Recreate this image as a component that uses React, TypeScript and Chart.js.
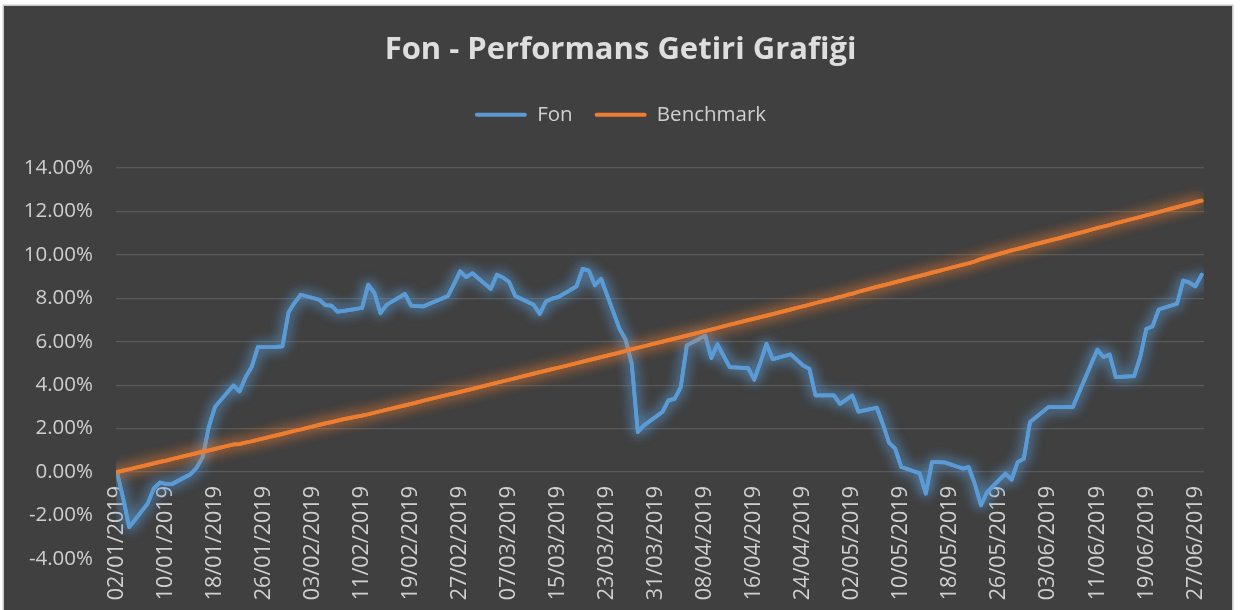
import React, { useEffect, useRef } from 'react';
import { Chart, registerables } from 'chart.js';

Chart.register(...registerables);

const TITLE = 'Fon - Performans Getiri Grafiği';
const SERIES_LABELS = ['Fon', 'Benchmark'];
const SERIES_COLORS = ['#5B9BD5', '#ED7D31'];
const GLOW_COLORS = ['rgba(91,155,213,0.9)', 'rgba(237,125,49,0.9)'];

const DATES = [
  '02/01/2019', '03/01/2019', '04/01/2019', '07/01/2019', '08/01/2019', '09/01/2019', '10/01/2019', '11/01/2019',
  '14/01/2019', '15/01/2019', '16/01/2019', '17/01/2019', '18/01/2019', '21/01/2019', '22/01/2019', '23/01/2019',
  '24/01/2019', '25/01/2019', '28/01/2019', '29/01/2019', '30/01/2019', '31/01/2019',
  '01/02/2019', '04/02/2019', '05/02/2019', '06/02/2019', '07/02/2019', '08/02/2019', '11/02/2019', '12/02/2019',
  '13/02/2019', '14/02/2019', '15/02/2019', '18/02/2019', '19/02/2019', '20/02/2019', '21/02/2019', '22/02/2019',
  '25/02/2019', '26/02/2019', '27/02/2019', '28/02/2019',
  '01/03/2019', '04/03/2019', '05/03/2019', '06/03/2019', '07/03/2019', '08/03/2019', '11/03/2019', '12/03/2019',
  '13/03/2019', '14/03/2019', '15/03/2019', '18/03/2019', '19/03/2019', '20/03/2019', '21/03/2019', '22/03/2019',
  '25/03/2019', '26/03/2019', '27/03/2019', '28/03/2019', '29/03/2019',
  '01/04/2019', '02/04/2019', '03/04/2019', '04/04/2019', '05/04/2019', '08/04/2019', '09/04/2019', '10/04/2019',
  '11/04/2019', '12/04/2019', '15/04/2019', '16/04/2019', '17/04/2019', '18/04/2019', '19/04/2019', '22/04/2019',
  '23/04/2019', '24/04/2019', '25/04/2019', '26/04/2019', '29/04/2019', '30/04/2019',
  '01/05/2019', '02/05/2019', '03/05/2019', '06/05/2019', '07/05/2019', '08/05/2019', '09/05/2019', '10/05/2019',
  '13/05/2019', '14/05/2019', '15/05/2019', '16/05/2019', '17/05/2019', '20/05/2019', '21/05/2019', '22/05/2019',
  '23/05/2019', '24/05/2019', '27/05/2019', '28/05/2019', '29/05/2019', '30/05/2019', '31/05/2019',
  '03/06/2019', '04/06/2019', '05/06/2019', '06/06/2019', '07/06/2019', '10/06/2019', '11/06/2019', '12/06/2019',
  '13/06/2019', '14/06/2019', '17/06/2019', '18/06/2019', '19/06/2019', '20/06/2019', '21/06/2019', '24/06/2019',
  '25/06/2019', '26/06/2019', '27/06/2019', '28/06/2019',
];

const FON = [
  0.0, -1.2, -2.53, -1.45, -0.76, -0.48, -0.55, -0.55,
  -0.1, 0.2, 0.7, 2.1, 3.0, 3.99, 3.71, 4.37,
  4.85, 5.75, 5.76, 5.78, 7.36, 7.8,
  8.16, 7.93, 7.68, 7.66, 7.38, 7.42, 7.55, 8.62,
  8.25, 7.31, 7.7, 8.2, 7.66, 7.64, 7.62, 7.75,
  8.1, 8.65, 9.24, 8.97,
  9.15, 8.43, 9.08, 8.95, 8.75, 8.1, 7.7, 7.28,
  7.85, 7.98, 8.05, 8.55, 9.35, 9.27, 8.6, 8.9,
  6.6, 6.1, 5.0, 1.84, 2.15,
  2.76, 3.3, 3.37, 3.9, 5.83, 6.28, 5.25, 5.88,
  5.35, 4.83, 4.78, 4.25, 5.05, 5.9, 5.2, 5.42,
  5.15, 4.9, 4.75, 3.53, 3.53, 3.14,
  3.33, 3.53, 2.78, 2.96, 2.2, 1.35, 1.08, 0.23,
  -0.05, -0.99, 0.46, 0.46, 0.45, 0.16, 0.23, -0.55,
  -1.53, -0.92, -0.07, -0.35, 0.46, 0.62, 2.3,
  2.99, 2.99, 2.99, 2.99, 2.99, 4.98, 5.63, 5.29,
  5.41, 4.37, 4.41, 5.3, 6.6, 6.7, 7.48, 7.75,
  8.81, 8.72, 8.55, 9.08,
];

const BENCHMARK = [
  0.0, 0.07, 0.13, 0.33, 0.4, 0.47, 0.53, 0.6,
  0.8, 0.87, 0.94, 1.0, 1.07, 1.27, 1.29, 1.36,
  1.42, 1.49, 1.69, 1.76, 1.83, 1.9,
  1.96, 2.17, 2.24, 2.3, 2.37, 2.44, 2.6, 2.66,
  2.73, 2.8, 2.87, 3.07, 3.14, 3.21, 3.28, 3.35,
  3.56, 3.62, 3.69, 3.76,
  3.83, 4.04, 4.11, 4.18, 4.25, 4.32, 4.53, 4.6,
  4.67, 4.74, 4.8, 5.01, 5.08, 5.15, 5.22, 5.29,
  5.5, 5.57, 5.65, 5.72, 5.79,
  6.0, 6.07, 6.14, 6.21, 6.28, 6.49, 6.56, 6.63,
  6.71, 6.78, 6.99, 7.06, 7.13, 7.2, 7.27, 7.49,
  7.56, 7.63, 7.7, 7.78, 7.99, 8.06,
  8.14, 8.21, 8.3, 8.52, 8.59, 8.66, 8.74, 8.81,
  9.03, 9.1, 9.18, 9.25, 9.32, 9.54, 9.61, 9.69,
  9.8, 9.88, 10.12, 10.2, 10.27, 10.34, 10.42,
  10.64, 10.71, 10.78, 10.86, 10.93, 11.15, 11.23, 11.3,
  11.37, 11.45, 11.67, 11.74, 11.82, 11.89, 11.97, 12.19,
  12.27, 12.34, 12.42, 12.49,
];

const X_TICK_STEP_DAYS = 8;
const Y_MIN = -4;
const Y_MAX = 14;
const Y_STEP = 2;

const DAY_MS = 86400000;
const parseDate = (s: string) => {
  const [d, m, y] = s.split('/').map(Number);
  return Date.UTC(y, m - 1, d);
};
const START = parseDate(DATES[0]);
const toDay = (s: string) => Math.round((parseDate(s) - START) / DAY_MS);
const pad2 = (n: number) => String(n).padStart(2, '0');
const fmtDay = (n: number) => {
  const dt = new Date(START + Math.round(n) * DAY_MS);
  return `${pad2(dt.getUTCDate())}/${pad2(dt.getUTCMonth() + 1)}/${dt.getUTCFullYear()}`;
};

const FONT = "'Open Sans', 'Noto Sans', sans-serif";
const W = 1241;
const H = 610;

const backgroundPlugin = {
  id: 'bgFrame',
  beforeDraw(chart: any) {
    const c = chart.ctx;
    c.save();
    c.fillStyle = '#ffffff';
    c.fillRect(0, 0, chart.width, chart.height);
    c.fillStyle = '#404040';
    c.fillRect(4, 6, 1228, chart.height - 6);
    c.strokeStyle = '#c8c8c8';
    c.lineWidth = 1.5;
    c.strokeRect(3.25, 5.25, 1229.5, chart.height + 10);
    c.restore();
  },
};

// Soft glow: the library's own line element is drawn with a canvas shadow,
// plus one extra shadowed pass to strengthen the halo.
const glowPlugin = {
  id: 'glow',
  beforeDatasetDraw(chart: any, args: any) {
    const c = chart.ctx;
    const a = chart.chartArea;
    c.save();
    c.shadowColor = GLOW_COLORS[args.index];
    c.shadowBlur = 13;
    c.save();
    c.beginPath();
    c.rect(a.left, a.top, a.right - a.left, a.bottom - a.top);
    c.clip();
    args.meta.controller.draw();
    c.restore();
  },
  afterDatasetDraw(chart: any) {
    chart.ctx.restore();
  },
};

export default function App() {
  const ref = useRef<HTMLCanvasElement>(null);

  useEffect(() => {
    const canvas = ref.current;
    if (!canvas) return;
    const xs = DATES.map(toDay);
    const series = [FON, BENCHMARK];
    const chart = new Chart(canvas, {
      type: 'line',
      data: {
        datasets: series.map((vals, i) => ({
          label: SERIES_LABELS[i],
          data: vals.map((v, k) => ({ x: xs[k], y: v })),
          borderColor: SERIES_COLORS[i],
          backgroundColor: SERIES_COLORS[i],
          borderWidth: 3.75,
          pointRadius: 0,
          pointHoverRadius: 0,
          tension: 0,
          borderJoinStyle: 'round',
          borderCapStyle: 'round',
          fill: false,
          yAxisID: 'y',
          xAxisID: 'x',
          order: i === 0 ? 1 : 0,
        })) as any,
      },
      plugins: [backgroundPlugin, glowPlugin],
      options: {
        responsive: false,
        animation: false,
        devicePixelRatio: 1,
        layout: { padding: { left: 0, right: 0, top: 0, bottom: 51 } },
        plugins: {
          title: {
            display: true,
            text: TITLE,
            color: '#dedede',
            font: { family: FONT, size: 31, weight: 'bold' },
            padding: { top: 31.4, bottom: 14 },
          },
          subtitle: {
            display: true,
            text: '',
            weight: 500,
            font: { size: 10 },
            padding: { top: 0, bottom: 20.75 },
          } as any,
          legend: {
            display: true,
            position: 'top',
            labels: {
              color: '#cfcfcf',
              font: { family: FONT, size: 20.5 },
              boxWidth: 52,
              boxHeight: 4,
              padding: 22,
              sort: (a: any, b: any) => a.datasetIndex - b.datasetIndex,
              generateLabels: (chart: any) => {
                const items = (Chart.defaults.plugins.legend.labels as any).generateLabels(chart);
                return items.map((it: any) => ({
                  ...it,
                  fillStyle: SERIES_COLORS[it.datasetIndex],
                  strokeStyle: SERIES_COLORS[it.datasetIndex],
                  lineWidth: 0,
                  borderRadius: 2,
                  fontColor: '#cfcfcf',
                }));
              },
            },
          },
          tooltip: { enabled: false },
        },
        scales: {
          x: {
            type: 'linear',
            position: { y: 0 } as any,
            min: -0.16,
            max: toDay(DATES[DATES.length - 1]) + 0.4,
            grid: { display: false, drawTicks: false },
            border: { display: false },
            afterFit: (s: any) => {
              s.height = 0;
            },
            ticks: {
              stepSize: X_TICK_STEP_DAYS,
              includeBounds: false,
              autoSkip: false,
              minRotation: 90,
              maxRotation: 90,
              padding: 14,
              color: '#cfcfcf',
              font: { family: FONT, size: 21.5 },
              callback: (v: any) => fmtDay(Number(v)),
            },
          },
          y: {
            type: 'linear',
            position: 'left',
            min: Y_MIN,
            max: Y_MAX,
            afterFit: (s: any) => {
              s.width = 116;
            },
            grid: {
              drawTicks: false,
              color: (ctx: any) => (ctx.tick && ctx.tick.value < 0 ? 'rgba(0,0,0,0)' : '#5a5a5a'),
              lineWidth: 1.2,
            },
            border: { display: false },
            ticks: {
              stepSize: Y_STEP,
              padding: 23,
              color: '#cfcfcf',
              font: { family: FONT, size: 20.5 },
              callback: (v: any) => Number(v).toFixed(2) + '%',
            },
          },
          yRightSpacer: {
            type: 'linear',
            position: 'right',
            display: true,
            grid: { display: false, drawTicks: false },
            border: { display: false },
            ticks: { display: false },
            afterFit: (s: any) => {
              s.width = 37;
            },
          },
        },
      } as any,
    });
    return () => chart.destroy();
  }, []);

  return (
    <div style={{ position: 'fixed', left: 0, top: 0, width: W, height: H }}>
      <canvas ref={ref} width={W} height={H} style={{ display: 'block', width: W, height: H }} />
    </div>
  );
}
